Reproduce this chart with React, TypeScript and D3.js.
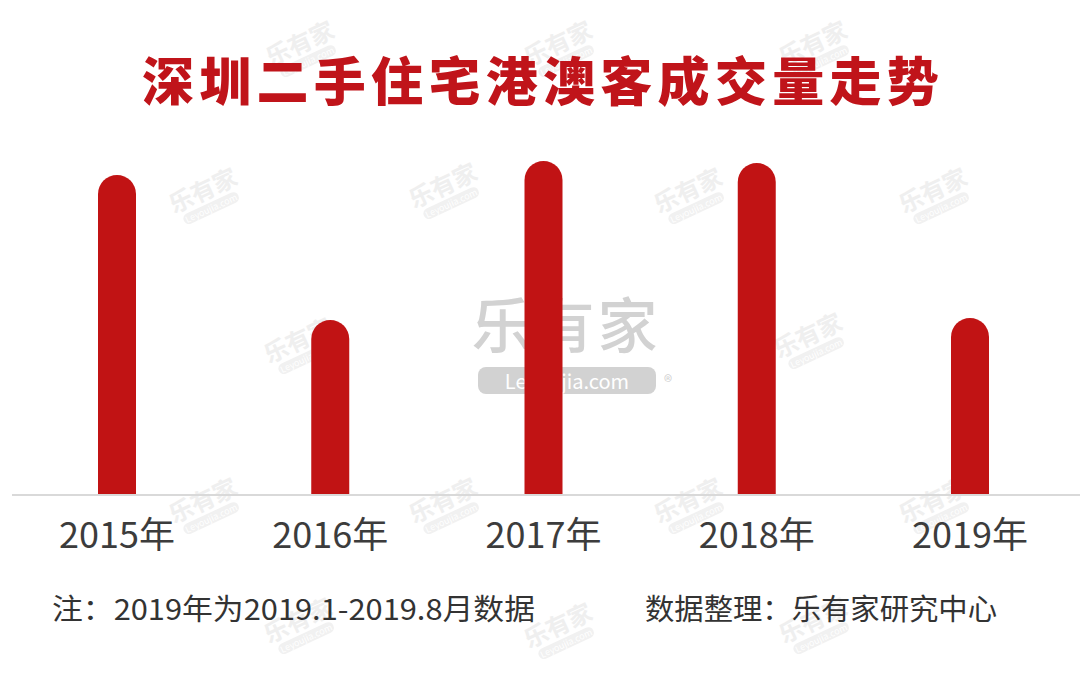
import * as d3 from 'd3';
import React, { useEffect, useRef } from 'react';

// data (heights, no axis in the original)
const years = ['2015年', '2016年', '2017年', '2018年', '2019年'];
const volumes = [319, 174, 333, 331, 176];

const title = '深圳二手住宅港澳客成交量走势';
const noteLeft = '注：2019年为2019.1-2019.8月数据';
const noteRight = '数据整理：乐有家研究中心';

// small watermark spots
const marks = [
  [302, 48], [560, 48], [815, 48],
  [205, 195], [445, 190], [690, 195], [935, 195],
  [300, 345], [810, 340],
  [205, 505], [445, 505], [690, 505], [935, 505],
  [300, 625], [560, 630], [815, 625],
];

const W = 1080;
const H = 680;
const FONT = '"Noto Sans CJK SC", "Noto Sans", sans-serif';

const App = () => {
  const svgRef = useRef(null);

  useEffect(() => {
    const svg = d3.select(svgRef.current);
    svg.selectAll('*').remove();

    const x = d3.scalePoint().domain(years).range([117, 970]);
    const y = d3
      .scaleLinear()
      .domain([0, d3.max(volumes) || 1])
      .range([494, 161]);

    svg.append('rect').attr('width', W).attr('height', H).attr('fill', '#fff');

    // watermarks
    const wm = svg.append('g').attr('class', 'wm');
    marks.forEach(([cx, cy]) => {
      const g = wm
        .append('g')
        .attr('transform', `translate(${cx},${cy}) rotate(-25)`)
        .attr('opacity', 0.55);
      g.append('text')
        .attr('text-anchor', 'middle')
        .attr('y', 4)
        .attr('font-family', FONT)
        .attr('font-weight', 700)
        .attr('font-size', 24)
        .attr('fill', '#e2e2e2')
        .text('乐有家');
      g.append('rect')
        .attr('x', -30)
        .attr('y', 9)
        .attr('width', 60)
        .attr('height', 11)
        .attr('rx', 5.5)
        .attr('fill', '#e6e6e6');
      g.append('text')
        .attr('text-anchor', 'middle')
        .attr('y', 18)
        .attr('font-family', FONT)
        .attr('font-size', 9)
        .attr('fill', '#fff')
        .text('Leyoujia.com');
    });

    // central big watermark
    const big = svg.append('g');
    big
      .append('text')
      .attr('x', 566)
      .attr('y', 348)
      .attr('text-anchor', 'middle')
      .attr('font-family', FONT)
      .attr('font-weight', 500)
      .attr('font-size', 60)
      .attr('fill', '#d2d2d2')
      .attr('letter-spacing', 3)
      .text('乐有家');
    big
      .append('rect')
      .attr('x', 478)
      .attr('y', 367)
      .attr('width', 178)
      .attr('height', 27)
      .attr('rx', 8)
      .attr('fill', '#d2d2d2');
    big
      .append('text')
      .attr('x', 567)
      .attr('y', 389)
      .attr('text-anchor', 'middle')
      .attr('font-family', FONT)
      .attr('font-size', 20)
      .attr('fill', '#fff')
      .text('Leyoujia.com');
    big
      .append('text')
      .attr('x', 668)
      .attr('y', 388)
      .attr('text-anchor', 'middle')
      .attr('font-family', FONT)
      .attr('font-size', 17)
      .attr('fill', '#d2d2d2')
      .text('®');

    // title
    svg
      .append('text')
      .attr('x', W / 2 + 3)
      .attr('y', 101)
      .attr('text-anchor', 'middle')
      .attr('font-family', FONT)
      .attr('font-weight', 900)
      .attr('font-size', 52)
      .attr('letter-spacing', 5.3)
      .attr('fill', '#c0141a')
      .text(title);

    // bars with round tops
    const bw = 38;
    const r = bw / 2;
    svg
      .append('g')
      .selectAll('path')
      .data(volumes)
      .join('path')
      .attr('fill', '#c11314')
      .attr('d', (d, i) => {
        const cx = x(years[i]) as number;
        const top = y(d);
        const p = d3.path();
        p.moveTo(cx - r, y(0));
        p.lineTo(cx - r, top + r);
        p.arc(cx, top + r, r, Math.PI, 0);
        p.lineTo(cx + r, y(0));
        p.closePath();
        return p.toString();
      });

    // baseline
    svg
      .append('line')
      .attr('x1', 12)
      .attr('x2', W)
      .attr('y1', y(0) + 1)
      .attr('y2', y(0) + 1)
      .attr('stroke', '#d9d9d9')
      .attr('stroke-width', 2);

    // category labels
    svg
      .append('g')
      .selectAll('text')
      .data(years)
      .join('text')
      .attr('x', (d) => x(d) as number)
      .attr('y', 548)
      .attr('text-anchor', 'middle')
      .attr('font-family', FONT)
      .attr('font-size', 36)
      .attr('fill', '#3c3c3c')
      .text((d) => d);

    // notes
    svg
      .append('text')
      .attr('x', 52)
      .attr('y', 620)
      .attr('font-family', FONT)
      .attr('font-size', 29)
      .attr('textLength', 483)
      .attr('lengthAdjust', 'spacingAndGlyphs')
      .attr('fill', '#333')
      .text(noteLeft);
    svg
      .append('text')
      .attr('x', 645)
      .attr('y', 620)
      .attr('font-family', FONT)
      .attr('font-size', 29)
      .attr('textLength', 352)
      .attr('lengthAdjust', 'spacingAndGlyphs')
      .attr('fill', '#333')
      .text(noteRight);
  }, []);

  return (
    <svg
      ref={svgRef}
      width={W}
      height={H}
      style={{ position: 'absolute', left: 0, top: 0 }}
    ></svg>
  );
};

export default App;
